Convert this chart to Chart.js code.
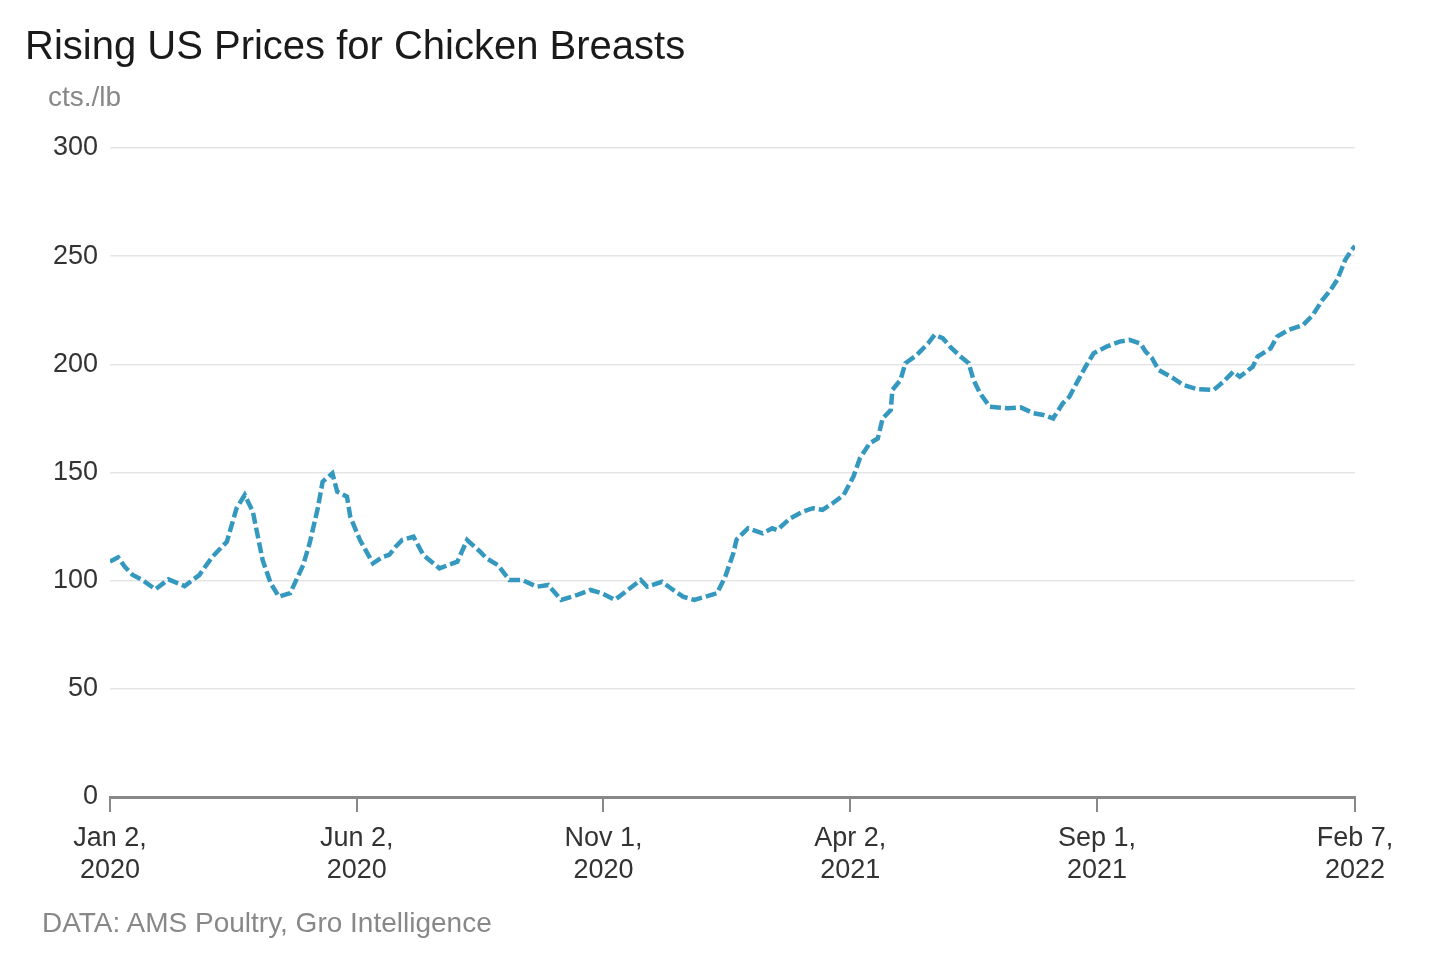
<!DOCTYPE html>
<html>
<head>
<meta charset="utf-8">
<script src="https://cdn.jsdelivr.net/npm/chart.js@4.4.1/dist/chart.umd.min.js"></script>
<style>
  html, body { margin: 0; padding: 0; background: #fff; }
  #wrap { position: relative; width: 1434px; height: 966px; font-family: 'Liberation Sans', Arial, Helvetica, sans-serif; }
  #c { position: absolute; left: 0; top: 0; }
  .t { position: absolute; white-space: nowrap; }
  #title { left: 25px; top: 25px; font-size: 40px; line-height: 40px; color: #1a1a1a; }
  #unit { left: 48px; top: 83px; font-size: 28px; line-height: 28px; color: #888; }
  #source { left: 42px; top: 909px; font-size: 28px; line-height: 28px; color: #888; }
</style>
</head>
<body>
<div id="wrap">
  <canvas id="c" width="1434" height="966"></canvas>
  <div class="t" id="title">Rising US Prices for Chicken Breasts</div>
  <div class="t" id="unit">cts./lb</div>
  <div class="t" id="source">DATA: AMS Poultry, Gro Intelligence</div>
</div>
<script>
// Days since 2020-01-02
const days = [0,5,9,14,20,28,36,46,55,63,72,78,83,88,94,99,104,111,119,123,128,131,137,140,146,148,154,162,168,172,176,180,187,193,203,214,220,228,232,239,246,254,263,270,278,288,296,303,311,319,327,331,340,347,353,360,374,379,384,386,393,402,408,411,419,427,433,439,445,452,458,462,468,473,476,481,482,487,490,497,504,508,513,518,524,529,532,536,542,553,561,569,575,581,587,591,596,601,606,614,622,628,635,638,642,646,655,661,670,680,686,692,696,704,707,715,719,726,735,741,747,752,756,761,765,767];
// Price, cents per pound
const prices = [108.8,110.8,106.5,102.6,100.3,96,100.6,97.5,102.6,111,118,133.5,139.6,131.9,109.6,98.8,92.6,94.2,107.2,117.3,133.5,145.8,149.6,141.1,138.8,129.6,118.8,108,111,111.9,115.7,118.8,120.3,111.9,105.7,108.8,118.8,113.4,110.3,107.2,100.3,100.3,97.2,98,91.1,93.4,95.7,94.2,91.1,95.7,100.3,97.2,99.5,95.7,92.6,91.1,94.2,101.8,112.6,119,124.2,121.9,124.2,123.4,128.8,131.9,133.5,132.7,135.7,139.6,148.1,156.6,163.5,165.7,175,178.9,188.2,192.8,200.5,204.3,209.7,213.6,212.1,207.8,203.6,200.5,192.8,186.6,180.4,179.7,180.1,177.4,176.6,175,182,185,192,198.9,205.1,208.2,210.5,211.3,209.5,205.9,202.8,197.4,193.6,190.5,188.5,188.2,192,196.6,194.3,198.9,203.6,207.4,212.8,215.9,218.2,222.8,229.8,234.4,239,248.3,252.9,254.7];
// X tick positions (days since 2020-01-02) and labels
const tickDays = [0,152,304,456,608,767];
const tickLabels = [['Jan 2,','2020'],['Jun 2,','2020'],['Nov 1,','2020'],['Apr 2,','2021'],['Sep 1,','2021'],['Feb 7,','2022']];
const yTicks = [0,50,100,150,200,250,300];

const FONT = "'Liberation Sans', Arial, Helvetica, sans-serif";
const points = days.map((d, i) => ({ x: d, y: prices[i] }));

new Chart(document.getElementById('c'), {
  type: 'line',
  data: {
    datasets: [{
      data: points,
      borderColor: '#3598bf',
      borderWidth: 4.5,
      borderDash: [11, 4],
      pointRadius: 0,
      tension: 0,
      fill: false
    }]
  },
  options: {
    responsive: false,
    animation: false,
    devicePixelRatio: 1,
    layout: { padding: { left: 0, right: 79, top: 148, bottom: 0 } },
    plugins: { legend: { display: false }, tooltip: { enabled: false }, title: { display: false } },
    scales: {
      x: {
        type: 'linear',
        min: 0,
        max: 767,
        afterBuildTicks: (s) => { s.ticks = tickDays.map(v => ({ value: v })); },
        afterFit: (s) => { s.height = 169; },
        ticks: {
          autoSkip: false,
          maxRotation: 0,
          padding: 10,
          color: '#333',
          font: { family: FONT, size: 27, lineHeight: 1.19 },
          callback: (v, i) => tickLabels[i]
        },
        grid: { drawOnChartArea: false, drawTicks: true, tickLength: 15, color: '#888', lineWidth: 2 },
        border: { display: true, color: '#888', width: 3 }
      },
      y: {
        min: 0,
        max: 300,
        afterBuildTicks: (s) => { s.ticks = yTicks.map(v => ({ value: v })); },
        afterFit: (s) => { s.width = 110; },
        ticks: {
          padding: 12,
          color: '#333',
          font: { family: FONT, size: 27 }
        },
        grid: { color: '#e5e5e5', lineWidth: 1.5, drawTicks: false },
        border: { display: false }
      }
    }
  }
});
</script>
</body>
</html>
